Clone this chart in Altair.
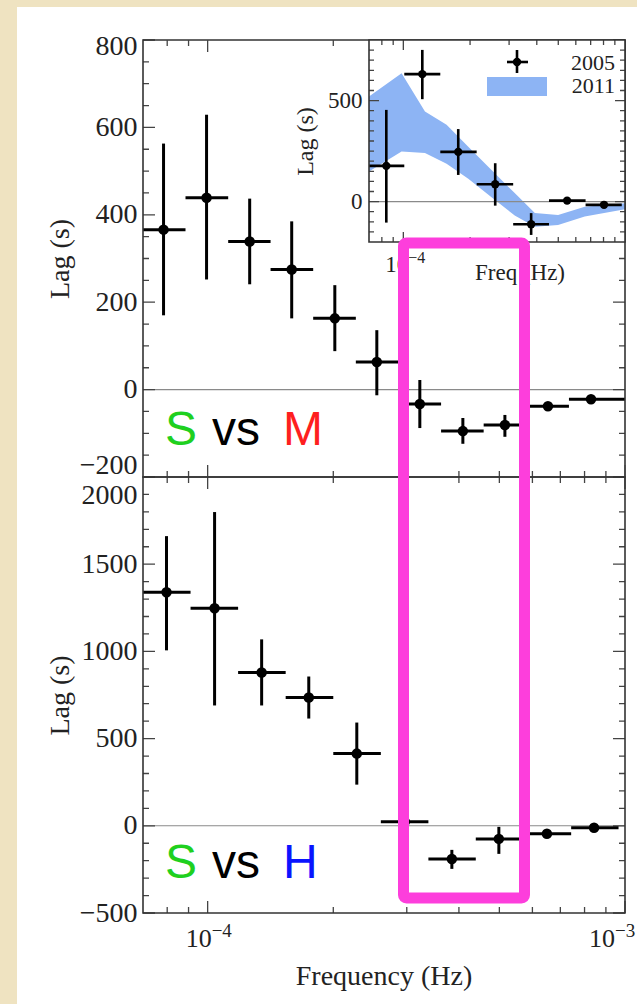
import altair as alt
import pandas as pd

# ---------------- values ----------------
# Upper panel "S vs M": lag (s) per frequency bin
sm_freq = [7.84e-5, 9.94e-5, 1.261e-4, 1.59e-4, 2.017e-4, 2.543e-4, 3.224e-4, 4.088e-4, 5.155e-4, 6.537e-4, 8.29e-4]
sm_fedge = [7.0e-5, 8.85e-5, 1.12e-4, 1.415e-4, 1.79e-4, 2.265e-4, 2.865e-4, 3.625e-4, 4.585e-4, 5.80e-4, 7.34e-4, 1.0e-3]
sm_lag = [366, 439, 339, 275, 163, 63, -33, -95, -81, -38, -22]
sm_lo = [170, 252, 241, 163, 88, -13, -88, -124, -108, -46, -27]
sm_hi = [563, 629, 437, 385, 239, 136, 22, -65, -58, -30, -17]

# Lower panel "S vs H"
sh_freq = [7.97e-5, 1.039e-4, 1.347e-4, 1.747e-4, 2.277e-4, 2.968e-4, 3.847e-4, 4.986e-4, 6.50e-4, 8.43e-4]
sh_fedge = [7.0e-5, 9.1e-5, 1.183e-4, 1.538e-4, 2.0e-4, 2.6e-4, 3.38e-4, 4.39e-4, 5.71e-4, 7.43e-4, 9.65e-4]
sh_lag = [1339, 1247, 879, 736, 414, 23, -190, -75, -46, -11]
sh_lo = [1006, 690, 690, 615, 236, 18, -247, -161, -56, -19]
sh_hi = [1661, 1799, 1069, 856, 592, 28, -138, -6, -36, -3]

# Inset: 2005 points
in_freq = [8.38e-5, 1.218e-4, 1.769e-4, 2.597e-4, 3.772e-4, 5.48e-4, 8.04e-4]
in_fedge = [7.0e-5, 1.01e-4, 1.468e-4, 2.142e-4, 3.13e-4, 4.54e-4, 6.64e-4, 9.67e-4]
in_lag = [177, 631, 246, 86, -112, 5, -16]
in_lo = [-104, 507, 132, -20, -165, -3, -24]
in_hi = [454, 751, 359, 190, -57, 13, -8]

# Inset: 2011 band
band_freq = [7.0e-5, 9.82e-5, 1.252e-4, 1.567e-4, 1.963e-4, 2.5e-4, 3.18e-4, 3.92e-4, 4.99e-4, 6.58e-4, 1.0e-3]
band_hi = [520, 636, 446, 380, 272, 157, 42, -57, -66, -25, -8]
band_lo = [149, 248, 240, 187, 113, 22, -69, -124, -116, -74, -38]

series_names = ["2005", "2011"]

# tick values and labels
x_major = [1e-4, 1e-3]
x_major_exp = ["\u22124", "\u22123"]
x_minor = [8e-5, 9e-5, 2e-4, 3e-4, 4e-4, 5e-4, 6e-4, 7e-4, 8e-4, 9e-4]
top_major = [-200, 0, 200, 400, 600, 800]
top_minor = [v for v in range(-150, 800, 50) if v % 200]
bot_major = [-500, 0, 500, 1000, 1500, 2000]
bot_minor = [v for v in range(-400, 2000, 100) if v % 500]
in_major = [0, 500]
in_minor = [v for v in range(-150, 800, 50) if v % 500]
in_x_major = [1e-4]
in_x_major_exp = ["\u22124"]

# ---------------- layout / style ----------------
W = 482
H_TOP = 437
H = 873
IN_X0 = 226
IN_H = 202

SERIF = "Liberation Serif"
SANS = "Liberation Sans"
TXT = "#222222"
SPINE = "#333333"
TICK = "#444444"
ZERO = "#8a8a8a"
BAND = "#8db4f4"
MAGENTA = "#fd3edc"
BEIGE = "#efe3c1"

X_MAIN = alt.Scale(type="log", domain=[7e-5, 1e-3], range=[0, W])
Y_TOP = alt.Scale(domain=[-200, 800], range=[H_TOP, 0], nice=False, zero=False)
Y_BOT = alt.Scale(domain=[-500, 2000], range=[H, H_TOP], nice=False, zero=False)
X_IN = alt.Scale(type="log", domain=[7e-5, 1e-3], range=[IN_X0, W])
Y_IN = alt.Scale(domain=[-200, 800], range=[IN_H, 0], nice=False, zero=False)

DUMMY = pd.DataFrame({"d": [0]})


def err_layers(freq, edges, lag, lo, hi, xs, ys, lw, size):
    df = pd.DataFrame({"f": freq, "f_lo": edges[:-1], "f_hi": edges[1:],
                       "lag": lag, "lo": lo, "hi": hi})
    base = alt.Chart(df)
    vbar = base.mark_rule(color="black", strokeWidth=lw).encode(
        x=alt.X("f:Q", scale=xs, axis=None),
        y=alt.Y("lo:Q", scale=ys, axis=None), y2="hi:Q")
    hbar = base.mark_rule(color="black", strokeWidth=lw).encode(
        x=alt.X("f_lo:Q", scale=xs, axis=None), x2="f_hi:Q",
        y=alt.Y("lag:Q", scale=ys, axis=None))
    pts = base.mark_circle(color="black", size=size, opacity=1).encode(
        x=alt.X("f:Q", scale=xs, axis=None),
        y=alt.Y("lag:Q", scale=ys, axis=None))
    return [vbar, hbar, pts]


def yticks(values, ys, L, x0, span):
    return alt.Chart(pd.DataFrame({"v": values})).mark_rule(
        color=TICK, strokeWidth=1.3, strokeDash=[L, span - 2 * L, L]).encode(
        y=alt.Y("v:Q", scale=ys, axis=None), x=alt.value(x0), x2=alt.value(x0 + span))


def xticks(values, xs, dash, y0, y1):
    return alt.Chart(pd.DataFrame({"v": values})).mark_rule(
        color=TICK, strokeWidth=1.3, strokeDash=dash).encode(
        x=alt.X("v:Q", scale=xs, axis=None), y=alt.value(y0), y2=alt.value(y1))


def frame(x0, x1, y0, y1):
    return alt.Chart(DUMMY).mark_rect(fillOpacity=0, stroke=SPINE, strokeWidth=1.6).encode(
        x=alt.value(x0), x2=alt.value(x1), y=alt.value(y0), y2=alt.value(y1))


def zero_rule(ys, x0, x1):
    return alt.Chart(pd.DataFrame({"z": [0]})).mark_rule(color=ZERO, strokeWidth=1.1).encode(
        y=alt.Y("z:Q", scale=ys, axis=None), x=alt.value(x0), x2=alt.value(x1))


def text(t, x, y, color, size, font, align="left"):
    return alt.Chart(DUMMY).mark_text(text=t, align=align, baseline="alphabetic", font=font,
                                      fontSize=size, color=color).encode(
        x=alt.value(x), y=alt.value(y))


def rect(x0, x1, y0, y1, color):
    return alt.Chart(DUMMY).mark_rect(color=color, opacity=1).encode(
        x=alt.value(x0), x2=alt.value(x1), y=alt.value(y0), y2=alt.value(y1))


def pow_label(value, exp, xs, y, size, esize, dx, edy):
    """tick label 10^exp placed through the x scale"""
    df = pd.DataFrame({"v": [value], "e": [exp]})
    base = alt.Chart(df).mark_text(text="10", align="right", baseline="alphabetic", font=SERIF,
                                   fontSize=size, color=TXT, dx=dx).encode(
        x=alt.X("v:Q", scale=xs, axis=None), y=alt.value(y))
    sup = alt.Chart(df).mark_text(align="left", baseline="alphabetic", font=SERIF,
                                  fontSize=esize, color=TXT, dx=dx, dy=edy).encode(
        x=alt.X("v:Q", scale=xs, axis=None), y=alt.value(y), text="e:N")
    return [base, sup]


def axis_layer(xs, ys, yaxis):
    """invisible layer that only carries a y axis for the given scales"""
    df = pd.DataFrame({"a": [xs.domain[0]], "b": [ys.domain[0]]})
    return alt.Chart(df).mark_point(opacity=0).encode(
        x=alt.X("a:Q", scale=xs, axis=None), y=alt.Y("b:Q", scale=ys, axis=yaxis))


# ---------------- y axes (labels only) ----------------
ylab_common = dict(orient="left", ticks=False, domain=False, grid=False, zindex=1, format="d",
                   labelFont=SERIF, labelColor=TXT, titleFont=SERIF,
                   titleFontWeight="normal", titleColor=TXT, titleBaseline="alphabetic")

top_axis = alt.Axis(values=top_major, labelFontSize=28, labelPadding=6,
                    labelOffset={"condition": [{"test": "datum.value == 800", "value": 6},
                                               {"test": "datum.value == -200", "value": -12}],
                                 "value": 0},
                    title="Lag (s)", titleFontSize=28, titleX=-75, **ylab_common)
bot_axis = alt.Axis(values=bot_major, labelFontSize=28, labelPadding=6,
                    labelOffset={"condition": {"test": "datum.value == 2000", "value": 18},
                                 "value": 0},
                    title="Lag (s)", titleFontSize=28, titleX=-75, **ylab_common)
in_yaxis = alt.Axis(values=in_major, labelFontSize=23, labelPadding=7, offset=-IN_X0,
                    title="Lag (s)", titleFontSize=24, titleX=-57, **ylab_common)

MAJ, MIN = 12, 6
main_xdash = lambda L: [L, H_TOP - 2 * L, 2 * L, H - H_TOP - 2 * L, L]
in_xdash = lambda L: [L, IN_H - 2 * L, L]

# ---------------- upper panel ----------------
top_layers = [
    zero_rule(Y_TOP, 0, W),
    yticks(top_minor, Y_TOP, MIN, 0, W),
    yticks(top_major, Y_TOP, MAJ, 0, W),
    *err_layers(sm_freq, sm_fedge, sm_lag, sm_lo, sm_hi, X_MAIN, Y_TOP, 3, 110),
    frame(0, W, 0, H_TOP),
    axis_layer(X_MAIN, Y_TOP, top_axis),
]

# ---------------- lower panel ----------------
bottom_layers = [
    zero_rule(Y_BOT, 0, W),
    yticks(bot_minor, Y_BOT, MIN, 0, W),
    yticks(bot_major, Y_BOT, MAJ, 0, W),
    xticks(x_minor, X_MAIN, main_xdash(MIN), 0, H),
    xticks(x_major, X_MAIN, main_xdash(MAJ), 0, H),
    *err_layers(sh_freq, sh_fedge, sh_lag, sh_lo, sh_hi, X_MAIN, Y_BOT, 3, 110),
    frame(0, W, H_TOP, H),
    axis_layer(X_MAIN, Y_BOT, bot_axis),
    *pow_label(x_major[0], x_major_exp[0], X_MAIN, H + 34, 26, 19, 4, -10),
    *pow_label(x_major[1], x_major_exp[1], X_MAIN, H + 34, 26, 19, -10, -10),
    text("Frequency (Hz)", W / 2, H + 72, TXT, 28, SERIF, align="center"),
]

# ---------------- inset ----------------
band_df = pd.DataFrame({"f": band_freq, "lo": band_lo, "hi": band_hi})
band = alt.Chart(band_df).mark_area(color=BAND, opacity=1).encode(
    x=alt.X("f:Q", scale=X_IN, axis=None),
    y=alt.Y("lo:Q", scale=Y_IN, axis=None), y2="hi:Q")

inset_layers = [
    rect(IN_X0, W, 0, IN_H, "white"),
    band,
    zero_rule(Y_IN, IN_X0, W),
    yticks(in_minor, Y_IN, 5, IN_X0, W - IN_X0),
    yticks(in_major, Y_IN, 10, IN_X0, W - IN_X0),
    xticks(x_minor, X_IN, in_xdash(5), 0, IN_H),
    xticks(in_x_major, X_IN, in_xdash(10), 0, IN_H),
    *err_layers(in_freq, in_fedge, in_lag, in_lo, in_hi, X_IN, Y_IN, 2.6, 70),
    # legend
    alt.Chart(DUMMY).mark_rule(color="black", strokeWidth=2.6).encode(
        x=alt.value(374), y=alt.value(10), y2=alt.value(33)),
    alt.Chart(DUMMY).mark_rule(color="black", strokeWidth=2.6).encode(
        x=alt.value(364), x2=alt.value(385), y=alt.value(22)),
    alt.Chart(DUMMY).mark_circle(color="black", size=70, opacity=1).encode(
        x=alt.value(374), y=alt.value(22)),
    rect(344, 404, 37, 56, BAND),
    text(series_names[0], 472, 30, TXT, 22, SERIF, align="right"),
    text(series_names[1], 472, 53, TXT, 22, SERIF, align="right"),
    frame(IN_X0, W, 0, IN_H),
    axis_layer(X_IN, Y_IN, in_yaxis),
    *pow_label(in_x_major[0], in_x_major_exp[0], X_IN, IN_H + 30, 23, 16, 5, -9),
    text("Freq (Hz)", 377, IN_H + 38, TXT, 23, SERIF, align="center"),
]

# ---------------- annotations ----------------
annotations = [
    rect(-143, -126, -40, H + 91, BEIGE),
    rect(-143, W + 12, -40, -33, BEIGE),
    text("S", 22, 405, "#1fd01f", 48, SANS),
    text("vs", 69, 405, "black", 48, SANS),
    text("M", 140, 405, "#fe1f1f", 48, SANS),
    text("S", 22, 838, "#1fd01f", 48, SANS),
    text("vs", 69, 838, "black", 48, SANS),
    text("H", 140, 838, "#0a14ff", 48, SANS),
    alt.Chart(DUMMY).mark_rect(fillOpacity=0, stroke=MAGENTA, strokeWidth=11, cornerRadius=3).encode(
        x=alt.value(260.5), x2=alt.value(381.5), y=alt.value(203), y2=alt.value(858)),
]

chart = alt.layer(*top_layers, *bottom_layers, *inset_layers, *annotations).resolve_scale(
    x="independent", y="independent"
).properties(
    width=W, height=H,
    padding={"left": 143, "top": 40, "right": 12, "bottom": 91},
    autosize=alt.AutoSizeParams(type="none"),
    background="white",
).configure_view(strokeWidth=0)

chart.save("out.html", embed_options={"renderer": "svg", "actions": False})
